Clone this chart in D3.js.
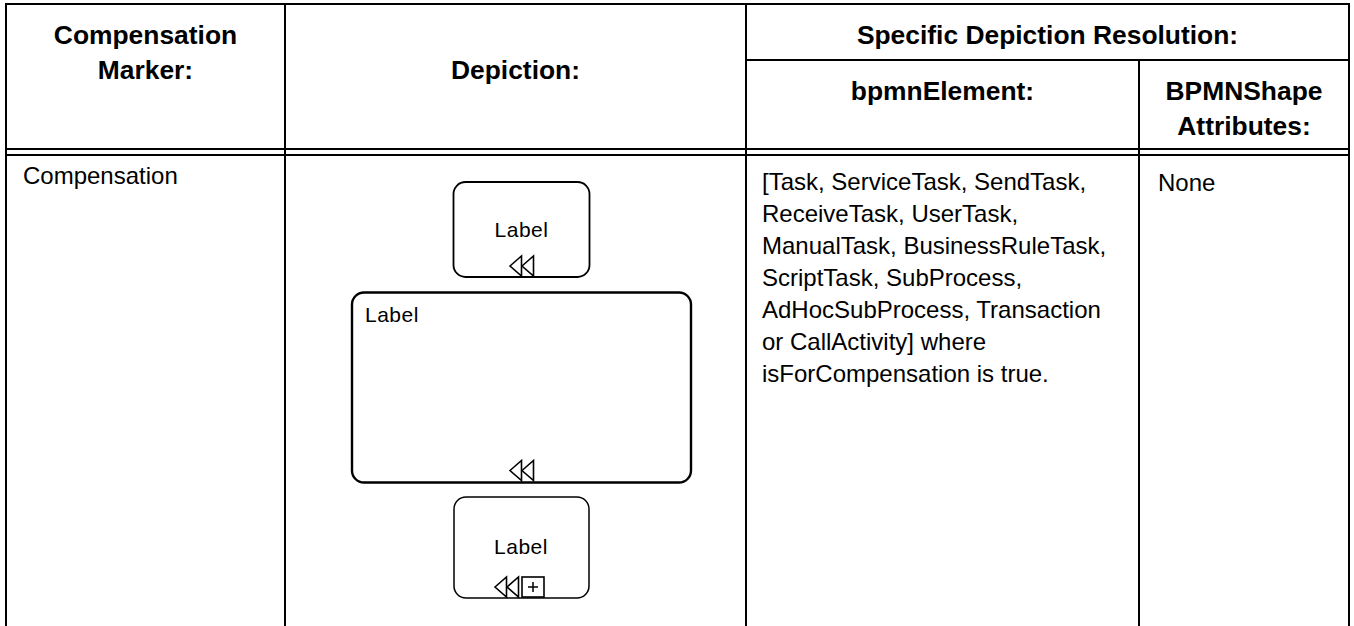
<!DOCTYPE html>
<html>
<head>
<meta charset="utf-8">
<script src="https://cdn.jsdelivr.net/npm/d3@7"></script>
<style>
  html, body { margin: 0; padding: 0; background: #fff; }
  svg { display: block; }
  text { font-family: "Liberation Sans", Arial, sans-serif; fill: #000; }
</style>
</head>
<body>
<svg id="chart" width="1354" height="626"></svg>
<script>
// table content
var headerTexts = [
  { lines: ['Compensation', 'Marker:'], col: 0, y: 44 },
  { lines: ['Depiction:'], col: 1, y: 79 },
  { lines: ['bpmnElement:'], col: 2, y: 100 },
  { lines: ['BPMNShape', 'Attributes:'], col: 3, y: 100 }
];
var spanHeader = 'Specific Depiction Resolution:';
var markerText = ['Compensation'];
var elementText = [
  '[Task, ServiceTask, SendTask,',
  'ReceiveTask, UserTask,',
  'ManualTask, BusinessRuleTask,',
  'ScriptTask, SubProcess,',
  'AdHocSubProcess, Transaction',
  'or CallActivity] where',
  'isForCompensation is true.'
];
var attributeText = ['None'];
var colEdges = [6, 285, 746, 1139, 1349];

var svg = d3.select('#chart');

function hline(x1, x2, y, w) {
  svg.append('line').attr('x1', x1).attr('x2', x2).attr('y1', y).attr('y2', y)
    .attr('stroke', '#000').attr('stroke-width', w);
}
function vline(x, y1, y2, w) {
  svg.append('line').attr('x1', x).attr('x2', x).attr('y1', y1).attr('y2', y2)
    .attr('stroke', '#000').attr('stroke-width', w);
}

// grid
hline(colEdges[0] - 1, colEdges[4] + 1, 4, 2);
hline(colEdges[2], colEdges[4], 60, 2);
hline(colEdges[0], colEdges[4], 149, 2);
hline(colEdges[0], colEdges[4], 155, 2);
vline(colEdges[0], 4, 626, 2);
vline(colEdges[1], 4, 626, 2);
vline(colEdges[2], 4, 626, 2);
vline(colEdges[3], 60, 626, 2);
vline(colEdges[4], 4, 626, 2);

// headers
headerTexts.forEach(function(d) {
  var cx = (colEdges[d.col] + colEdges[d.col + 1]) / 2;
  d.lines.forEach(function(t, i) {
    svg.append('text').attr('x', cx).attr('y', d.y + i * 35)
      .attr('text-anchor', 'middle').attr('font-weight', 'bold').attr('font-size', 26.4).text(t);
  });
});
svg.append('text').attr('x', (colEdges[2] + colEdges[4]) / 2).attr('y', 44)
  .attr('text-anchor', 'middle').attr('font-weight', 'bold').attr('font-size', 26.4).text(spanHeader);

// body text
function bodyLines(lines, x, y) {
  lines.forEach(function(t, i) {
    svg.append('text').attr('x', x).attr('y', y + i * 32)
      .attr('font-size', 24).text(t);
  });
}
bodyLines(markerText, 23, 184);
bodyLines(elementText, 762, 190);
bodyLines(attributeText, 1158, 191);

// depiction shapes
function box(x, y, w, h, r, sw) {
  svg.append('rect').attr('x', x).attr('y', y).attr('width', w).attr('height', h)
    .attr('rx', r).attr('ry', r).attr('fill', '#fff').attr('stroke', '#000').attr('stroke-width', sw);
}
function label(x, y, anchor) {
  svg.append('text').attr('x', x).attr('y', y).attr('text-anchor', anchor)
    .attr('font-size', 21).attr('letter-spacing', 0.5).text('Label');
}
function rewind(x, y) {
  // two overlapping triangles pointing left; x is the left tip, y the bottom
  var line = d3.line();
  [x, x + 12].forEach(function(px) {
    svg.append('path')
      .attr('d', line([[px, y - 10], [px + 11.5, y - 20], [px + 11.5, y]]) + 'Z')
      .attr('fill', 'none').attr('stroke', '#000').attr('stroke-width', 1.6);
  });
}

box(453.5, 182, 136, 95, 12, 1.8);
label(521.5, 237, 'middle');
rewind(510, 276);

box(352, 292.5, 339, 190, 12, 2.4);
label(365, 322, 'start');
rewind(510, 480.5);

box(454, 497, 135, 101, 12, 1.5);
label(521, 554, 'middle');
rewind(495, 597);
svg.append('rect').attr('x', 522).attr('y', 577).attr('width', 22).attr('height', 20)
  .attr('fill', '#fff').attr('stroke', '#000').attr('stroke-width', 1.6);
hline(528, 538, 587, 1.5);
vline(533, 582, 592, 1.5);
</script>
</body>
</html>
